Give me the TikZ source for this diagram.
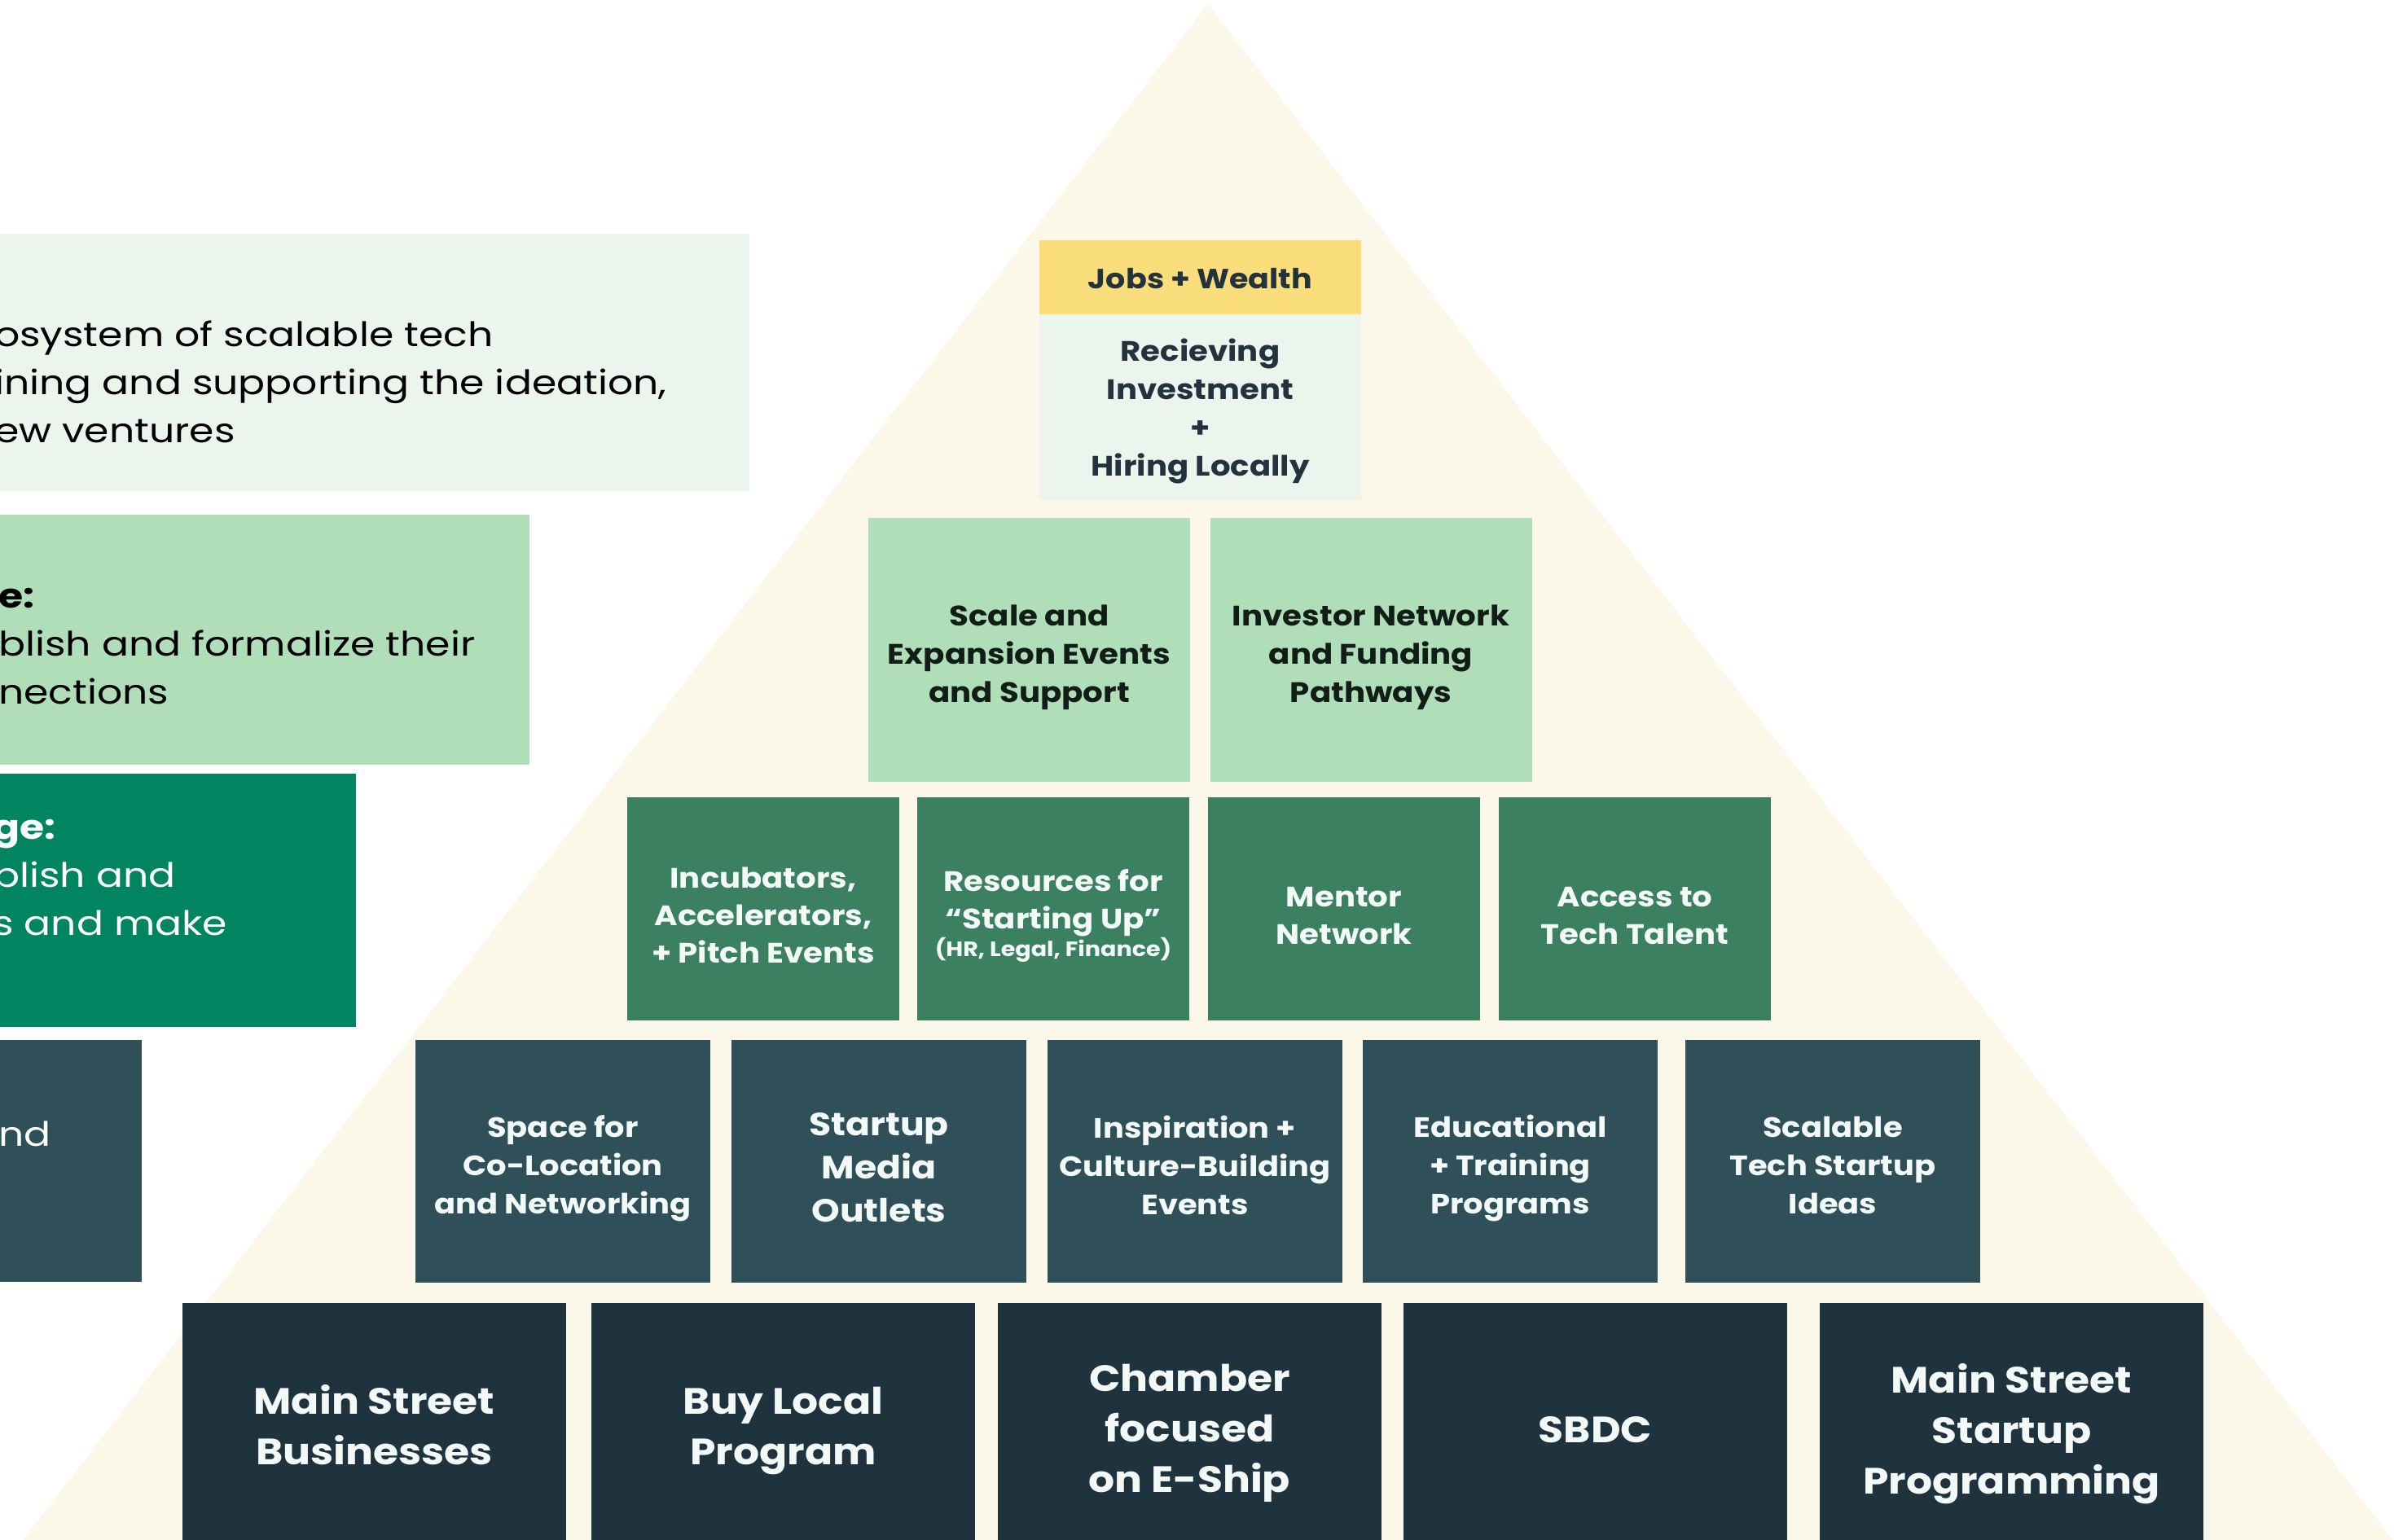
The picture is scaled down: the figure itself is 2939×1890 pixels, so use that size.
\documentclass[tikz,border=0pt]{standalone}
\usepackage{fontspec}
\setmainfont{Poppins}[FakeStretch=1.12]
\newfontfamily\sidefont{Poppins}[FakeStretch=1.18]
\definecolor{cream}{RGB}{251,247,233}
\definecolor{pale}{RGB}{235,244,237}
\definecolor{mint}{RGB}{176,222,184}
\definecolor{deepgreen}{RGB}{0,133,96}
\definecolor{leaf}{RGB}{58,128,97}
\definecolor{slate}{RGB}{47,79,89}
\definecolor{navy}{RGB}{31,51,62}
\definecolor{gold}{RGB}{249,222,123}
\definecolor{ink}{RGB}{34,51,61}
\definecolor{blackink}{RGB}{17,29,22}
\definecolor{offwhite}{RGB}{242,249,246}
\begin{document}
\begin{tikzpicture}[x=1pt,y=-1pt]
\tikzset{
 pbox/.style={rectangle, inner sep=0pt, outer sep=0pt, draw=none},
 plab/.style={inner sep=0pt, outer sep=0pt, align=center},
 topy/.style={pbox, fill=gold, minimum width=395pt, minimum height=91pt},
 topl/.style={pbox, fill=pale, minimum width=395pt, minimum height=228pt},
 rowtwo/.style={pbox, fill=mint, minimum width=395pt, minimum height=324pt},
 rowthree/.style={pbox, fill=leaf, minimum width=334pt, minimum height=274pt},
 rowfour/.style={pbox, fill=slate, minimum width=362pt, minimum height=298pt},
 rowfive/.style={pbox, fill=navy, minimum width=471pt, minimum height=300pt},
 labtop/.style={plab, text=ink, font=\fontsize{34}{46}\selectfont\bfseries},
 labrecv/.style={plab, text=ink, font=\fontsize{34.5}{47}\selectfont\bfseries},
 labtwo/.style={plab, text=blackink, font=\fontsize{34.6}{47}\selectfont\bfseries},
 labthree/.style={plab, text=offwhite, font=\fontsize{34.5}{46}\selectfont\bfseries},
 labfour/.style={plab, text=offwhite, font=\fontsize{34.3}{47}\selectfont\bfseries},
 labfive/.style={plab, text=offwhite, font=\fontsize{45}{62}\selectfont\bfseries},
 sidebox/.style={rectangle, inner sep=0pt, outer sep=0pt, draw=none},
 sidetext/.style={anchor=west, inner sep=0pt, align=left, font=\sidefont\fontsize{41.4}{59}\selectfont},
}
\useasboundingbox (0,0) rectangle (2939,1890);
% pyramid background
\fill[cream] (1483,5) -- (2941,1895) -- (25,1895) -- cycle;

% left panels
\node[sidebox, fill=pale, minimum width=930pt, minimum height=316pt] (p1) at (455,445) {};
\node[sidebox, fill=mint, minimum width=660pt, minimum height=307pt] (p2) at (320,785.5) {};
\node[sidebox, fill=deepgreen, minimum width=447pt, minimum height=311pt] (p3) at (213.5,1105.5) {};
\node[sidebox, fill=slate, minimum width=184pt, minimum height=297pt] (p4) at (82,1425.5) {};

\node[sidetext, text=black] (t1) at (-7,469) {osystem of scalable tech\\ining and supporting the ideation,\\ew ventures};
\node[sidetext, text=black] (t2) at (-2,794) {\textbf{e:}\\blish and formalize their\\nections};
\node[sidetext, text=white] (t3) at (-9,1078) {\textbf{ge:}\\blish and\\s and make};
\node[sidetext, text=white] (t4) at (-2,1392) {nd};

% top
\node[topy] (jobs) at (1473.5,340.5) {};
\node[labtop] (jobsL) at (1473.5,342.5) {Jobs + Wealth};
\node[topl] (recv) at (1473.5,500) {};
\node[labrecv] (recvL) at (1473.5,505) {Recieving\\Investment\\+\\Hiring Locally};

% row 2
\node[rowtwo] (scale) at (1263.5,798) {};
\node[labtwo] (scaleL) at (1263.5,807) {Scale and\\Expansion Events\\and Support};
\node[rowtwo] (invest) at (1683,798) {};
\node[labtwo] (investL) at (1683,807) {Investor Network\\and Funding\\Pathways};

% row 3
\node[rowthree] (incub) at (937,1116) {};
\node[labthree] (incubL) at (937,1124) {Incubators,\\Accelerators,\\+ Pitch Events};
\node[rowthree] (resrc) at (1293,1116) {};
\node[labthree] (resrcL) at (1293,1124) {Resources for\\“Starting Up”\\[-12pt]{\fontsize{25.5}{34}\selectfont (HR, Legal, Finance)}};
\node[rowthree] (mentor) at (1650,1116) {};
\node[labthree] (mentorL) at (1650,1125) {Mentor\\Network};
\node[rowthree] (talent) at (2007,1116) {};
\node[labthree] (talentL) at (2007,1125) {Access to\\Tech Talent};

% row 4
\node[rowfour] (space) at (691,1426) {};
\node[labfour] (spaceL) at (691,1435) {Space for\\Co-Location\\and Networking};
\node[rowfour] (media) at (1079,1426) {};
\node[labfour, font=\fontsize{39.4}{53}\selectfont\bfseries] (mediaL) at (1079,1434) {Startup\\Media\\Outlets};
\node[rowfour] (inspire) at (1467,1426) {};
\node[labfour] (inspireL) at (1467,1431) {Inspiration +\\Culture-Building\\Events};
\node[rowfour] (educ) at (1854,1426) {};
\node[labfour] (educL) at (1854,1434) {Educational\\+ Training\\Programs};
\node[rowfour] (ideas) at (2250,1426) {};
\node[labfour] (ideasL) at (2250,1431) {Scalable\\Tech Startup\\Ideas};

% row 5
\node[rowfive] (mainst) at (459.5,1750) {};
\node[labfive] (mainstL) at (459.5,1750) {Main Street\\Businesses};
\node[rowfive] (buy) at (961.5,1750) {};
\node[labfive] (buyL) at (961.5,1757) {Buy Local\\Program};
\node[rowfive] (chamber) at (1460.5,1750) {};
\node[labfive] (chamberL) at (1460.5,1760) {Chamber\\focused\\on E-Ship};
\node[rowfive] (sbdc) at (1958.5,1750) {};
\node[labfive] (sbdcL) at (1958.5,1756) {SBDC};
\node[rowfive] (mssp) at (2469.5,1750) {};
\node[labfive] (msspL) at (2469.5,1761) {Main Street\\Startup\\Programming};
\end{tikzpicture}
\end{document}
